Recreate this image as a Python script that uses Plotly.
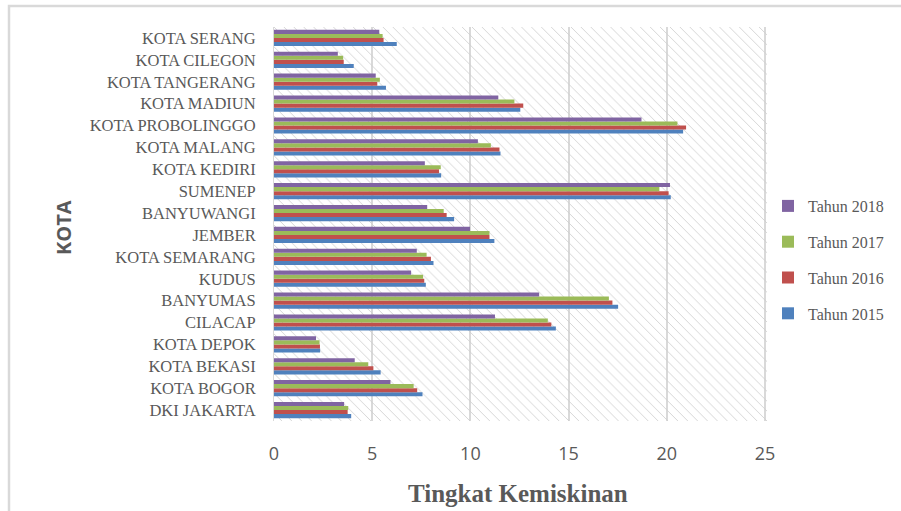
import plotly.graph_objects as go

# Kabupaten/kota, listed bottom to top
kota = [
    "DKI JAKARTA", "KOTA BOGOR", "KOTA BEKASI", "KOTA DEPOK", "CILACAP",
    "BANYUMAS", "KUDUS", "KOTA SEMARANG", "JEMBER", "BANYUWANGI",
    "SUMENEP", "KOTA KEDIRI", "KOTA MALANG", "KOTA PROBOLINGGO",
    "KOTA MADIUN", "KOTA TANGERANG", "KOTA CILEGON", "KOTA SERANG",
]

# Tingkat kemiskinan (%) per tahun
tahun_2015 = [3.93, 7.56, 5.43, 2.35, 14.35, 17.52, 7.73, 8.12, 11.22, 9.17,
              20.20, 8.51, 11.53, 20.83, 12.54, 5.70, 4.06, 6.25]
tahun_2016 = [3.75, 7.29, 5.06, 2.34, 14.12, 17.23, 7.65, 7.99, 10.97, 8.79,
              20.09, 8.40, 11.48, 20.98, 12.69, 5.26, 3.55, 5.58]
tahun_2017 = [3.78, 7.11, 4.80, 2.32, 13.94, 17.05, 7.59, 7.77, 10.97, 8.64,
              19.62, 8.49, 11.04, 20.54, 12.24, 5.39, 3.52, 5.53]
tahun_2018 = [3.57, 5.93, 4.11, 2.14, 11.25, 13.50, 6.98, 7.27, 9.98, 7.80,
              20.16, 7.68, 10.38, 18.71, 11.42, 5.18, 3.25, 5.36]

series = [
    ("Tahun 2015", tahun_2015, "#4F81BD"),
    ("Tahun 2016", tahun_2016, "#C0504D"),
    ("Tahun 2017", tahun_2017, "#9BBB59"),
    ("Tahun 2018", tahun_2018, "#8064A2"),
]

x_ticks = [0, 5, 10, 15, 20, 25]

GREY_TEXT = "#595959"
SERIF = "Liberation Serif, DejaVu Serif, serif"
SANS = "Open Sans, Liberation Sans, sans-serif"

# plot area in pixels
L, R, T, B = 274, 767, 27, 421
W, H = 901, 511
PW, PH = R - L, B - T


def px(xp):
    return (xp - L) / PW


def py(yp):
    return (B - yp) / PH


fig = go.Figure()

# Hatched plot-area fill on the base axis, drawn underneath the data
fig.add_trace(go.Bar(
    x=[x_ticks[-1] + 0.1], y=[0.5], base=[0], width=[1], orientation="h",
    marker=dict(color="#cfcfcf", line=dict(width=0),
                pattern=dict(shape="\\", size=7, solidity=0.12,
                             fillmode="replace")),
    xaxis="x", yaxis="y", showlegend=False, hoverinfo="skip",
))

n = len(series)
for i, (name, vals, color) in enumerate(series):
    fig.add_trace(go.Bar(
        name=name, x=vals, y=kota, orientation="h",
        marker=dict(color=color, line=dict(width=0)),
        xaxis="x", yaxis="y2", legendgroup=name, legendrank=n - i,
    ))

fig.update_layout(
    width=W, height=H,
    margin=dict(l=L, r=W - R, t=T, b=H - B, autoexpand=False),
    paper_bgcolor="white", plot_bgcolor="white",
    barmode="group", bargap=0.26, bargroupgap=0,
    xaxis=dict(
        range=[0, 25.1], tickvals=x_ticks, showgrid=True,
        gridcolor="#d9d9d9", gridwidth=2, zeroline=False,
        showline=False, ticks="",
        tickfont=dict(family=SANS, size=18, color=GREY_TEXT),
        ticklabelstandoff=20,
    ),
    yaxis=dict(range=[0, 1], visible=False, fixedrange=True),
    yaxis2=dict(
        overlaying="y", side="left", type="category",
        categoryorder="array", categoryarray=kota,
        showgrid=False, zeroline=False, ticks="",
        showline=True, linecolor="#d9d9d9", linewidth=1,
        tickfont=dict(family=SERIF, size=16.5, color=GREY_TEXT),
        ticklabelstandoff=14,
    ),
    legend=dict(
        x=px(768), y=py(260), xanchor="left", yanchor="middle",
        traceorder="grouped", tracegroupgap=12, itemwidth=30,
        font=dict(family=SERIF, size=16, color=GREY_TEXT),
        bgcolor="rgba(0,0,0,0)",
    ),
    annotations=[
        dict(text="<b>Tingkat Kemiskinan</b>", xref="paper", yref="paper",
             x=px(518), y=py(493), xanchor="center", yanchor="middle",
             showarrow=False,
             font=dict(family=SERIF, size=25, color=GREY_TEXT)),
        dict(text="<b>KOTA</b>", xref="paper", yref="paper",
             x=px(63), y=py(228), xanchor="center", yanchor="middle",
             showarrow=False, textangle=-90,
             font=dict(family=SANS, size=20, color=GREY_TEXT)),
    ],
    shapes=[
        # outer chart frame
        dict(type="rect", xref="paper", yref="paper",
             x0=px(9), x1=px(915), y0=py(530), y1=py(6),
             line=dict(color="#d9d9d9", width=2.5), layer="below"),
    ],
)

fig.write_html("out.html")
